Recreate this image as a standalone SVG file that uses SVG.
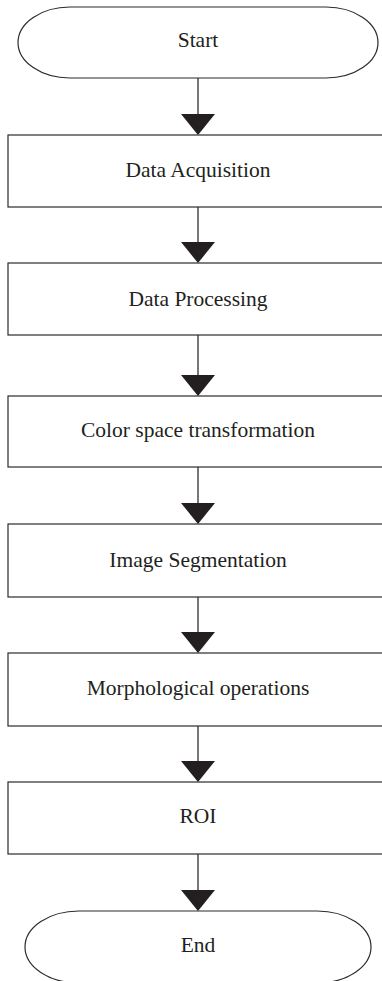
<svg xmlns="http://www.w3.org/2000/svg" width="382" height="981" viewBox="0 0 382 981">
<defs>
<style>
.box{fill:#fff;stroke:#2b2b2b;stroke-width:1.2}
.term{fill:#fff;stroke:#2b2b2b;stroke-width:1.2}
.lbl{font-family:"Liberation Serif","Times New Roman",serif;font-size:21.5px;fill:#231f20;text-anchor:middle}
.conn line{stroke:#555;stroke-width:1.6}
.conn polygon{fill:#231f20}
</style>
</defs>
<rect width="382" height="981" fill="#fff"/>
<g id="connectors" class="conn">
<line x1="198" y1="78" x2="198" y2="116"/><polygon points="181,114 215,114 198,135"/>
<line x1="198" y1="207" x2="198" y2="244"/><polygon points="181,242 215,242 198,263"/>
<line x1="198" y1="335" x2="198" y2="377"/><polygon points="181,375 215,375 198,396"/>
<line x1="198" y1="467" x2="198" y2="505"/><polygon points="181,503 215,503 198,524"/>
<line x1="198" y1="597" x2="198" y2="634"/><polygon points="181,632 215,632 198,653"/>
<line x1="198" y1="726" x2="198" y2="763"/><polygon points="181,761 215,761 198,782"/>
<line x1="198" y1="854" x2="198" y2="892"/><polygon points="181,890 215,890 198,911"/>
</g>
<g id="start"><rect class="term" x="18" y="7" width="360" height="71" rx="52" ry="35.5"/><text class="lbl" x="198" y="47">Start</text></g>
<g id="data-acquisition"><rect class="box" x="8" y="135" width="380" height="72"/><text class="lbl" x="198" y="177">Data Acquisition</text></g>
<g id="data-processing"><rect class="box" x="8" y="263" width="380" height="72"/><text class="lbl" x="198" y="306">Data Processing</text></g>
<g id="color-space"><rect class="box" x="8" y="396" width="380" height="71"/><text class="lbl" x="198" y="437">Color space transformation</text></g>
<g id="image-segmentation"><rect class="box" x="8" y="524" width="380" height="73"/><text class="lbl" x="198" y="567">Image Segmentation</text></g>
<g id="morphological"><rect class="box" x="8" y="653" width="380" height="73"/><text class="lbl" x="198" y="695">Morphological operations</text></g>
<g id="roi"><rect class="box" x="8" y="782" width="380" height="72"/><text class="lbl" x="198" y="823">ROI</text></g>
<g id="end"><rect class="term" x="25" y="911" width="346" height="72" rx="54" ry="36"/><text class="lbl" x="198" y="952">End</text></g>
</svg>
